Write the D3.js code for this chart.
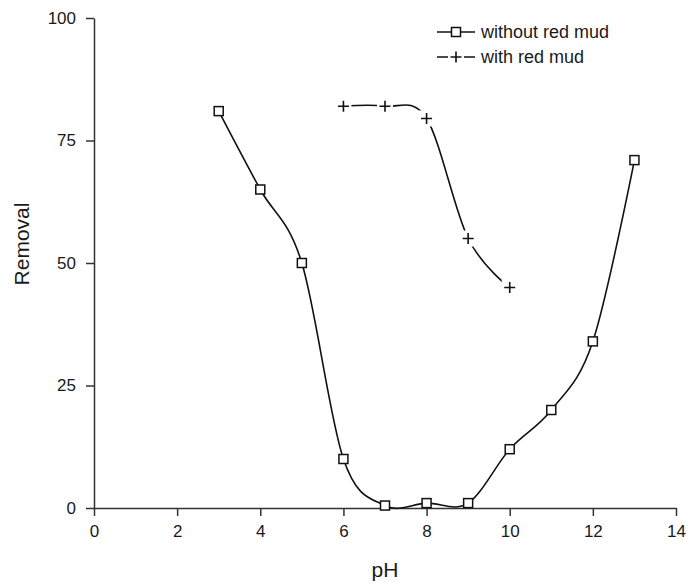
<!DOCTYPE html>
<html>
<head>
<meta charset="utf-8">
<script src="https://cdn.jsdelivr.net/npm/d3@7"></script>
<style>
  body { margin: 0; background: #fff; }
  svg text { font-family: "Liberation Sans", Arial, sans-serif; fill: #1a1a1a; }
</style>
</head>
<body>
<svg id="chart" width="696" height="583"></svg>
<script>
// pH values and removal readings
var phWithout = [3, 4, 5, 6, 7, 8, 9, 10, 11, 12, 13];
var removalWithout = [81, 65, 50, 10, 0.5, 1, 1, 12, 20, 34, 71];
var phWith = [6, 7, 8, 9, 10];
var removalWith = [82, 82, 79.5, 55, 45];
var xTicks = [0, 2, 4, 6, 8, 10, 12, 14];
var yTicks = [0, 25, 50, 75, 100];
var seriesNames = ["without red mud", "with red mud"];

var svg = d3.select("#chart");
var x = d3.scaleLinear().domain([0, 14]).range([94, 676]);
var y = d3.scaleLinear().domain([0, 100]).range([508, 18]);

// axes
var xAxis = svg.append("g").attr("transform", "translate(0," + y(0) + ")")
    .call(d3.axisBottom(x).tickValues(xTicks).tickSize(8).tickSizeOuter(0).tickPadding(9));
var yAxis = svg.append("g").attr("transform", "translate(" + x(0) + ",0)")
    .call(d3.axisLeft(y).tickValues(yTicks).tickSize(8).tickSizeOuter(0).tickPadding(10));

[xAxis, yAxis].forEach(function(g){
    g.selectAll("path, line").attr("stroke", "#333").attr("stroke-width", 1.5);
    g.selectAll("text").attr("font-size", 17).style("fill", "#1a1a1a")
        .attr("font-family", "Liberation Sans, Arial, sans-serif");
});

svg.append("text").attr("x", x(7)).attr("y", 577).attr("text-anchor", "middle")
    .attr("font-size", 21).text("pH");
svg.append("text").attr("transform", "translate(29,244) rotate(-90)")
    .attr("text-anchor", "middle").attr("font-size", 21).text("Removal");

// smoothed lines, like the spreadsheet's smoothing
var line = d3.line().x(function(d){ return x(d[0]); }).y(function(d){ return y(d[1]); })
    .curve(d3.curveCardinal.tension(0));

var dataWithout = d3.zip(phWithout, removalWithout);
var dataWith = d3.zip(phWith, removalWith);

svg.append("path").datum(dataWithout).attr("d", line)
    .attr("fill", "none").attr("stroke", "#111").attr("stroke-width", 1.6);
svg.append("path").datum(dataWith).attr("d", line)
    .attr("fill", "none").attr("stroke", "#111").attr("stroke-width", 1.6);

function drawSquare(g, cx, cy){
    g.append("rect").attr("x", cx - 4.5).attr("y", cy - 4.5).attr("width", 9).attr("height", 9)
        .attr("fill", "#fff").attr("stroke", "#111").attr("stroke-width", 1.5);
}
function drawPlus(g, cx, cy){
    g.append("rect").attr("x", cx - 8).attr("y", cy - 8).attr("width", 16).attr("height", 16)
        .attr("fill", "#fff");
    g.append("path").attr("d", "M" + (cx - 5.5) + "," + cy + "H" + (cx + 5.5) + "M" + cx + "," + (cy - 5.5) + "V" + (cy + 5.5))
        .attr("stroke", "#111").attr("stroke-width", 1.6);
}

var markers = svg.append("g");
dataWithout.forEach(function(d){ drawSquare(markers, x(d[0]), y(d[1])); });
dataWith.forEach(function(d){ drawPlus(markers, x(d[0]), y(d[1])); });

// legend
var legend = svg.append("g");
var legendY = [32, 57];
legendY.forEach(function(ly, i){
    legend.append("line").attr("x1", 437).attr("x2", 475).attr("y1", ly).attr("y2", ly)
        .attr("stroke", "#111").attr("stroke-width", 1.6);
    if (i === 0) drawSquare(legend, 456, ly); else drawPlus(legend, 456, ly);
    legend.append("text").attr("x", 481).attr("y", ly + 6).attr("font-size", 18).text(seriesNames[i]);
});
</script>
</body>
</html>
